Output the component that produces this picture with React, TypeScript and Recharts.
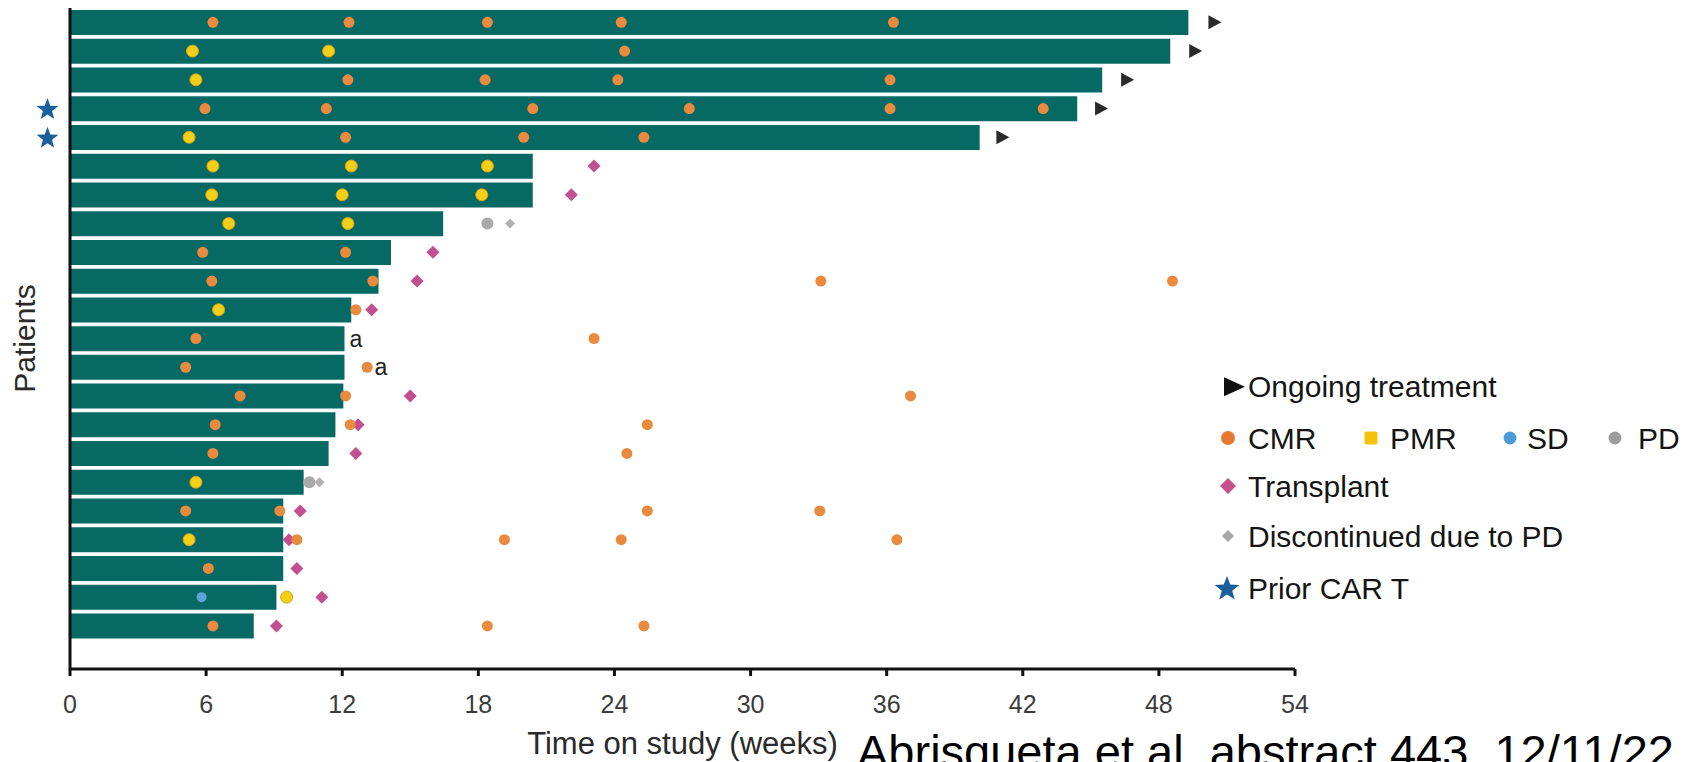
import { Bar, ComposedChart, Legend, Scatter, XAxis, YAxis } from "recharts";

const FONT = '"Liberation Sans", Arial, Helvetica, sans-serif';
const TEAL = "#066964";

// one row per patient, top to bottom
const patientRows = [1, 2, 3, 4, 5, 6, 7, 8, 9, 10, 11, 12, 13, 14, 15, 16, 17, 18, 19, 20, 21, 22];
const weeksOnStudy = [
  49.3, 48.5, 45.5, 44.4, 40.1, 20.4, 20.4, 16.45, 14.15, 13.6, 12.4,
  12.1, 12.1, 12.05, 11.7, 11.4, 10.3, 9.4, 9.4, 9.4, 9.1, 8.1,
];
const xTicks = [0, 6, 12, 18, 24, 30, 36, 42, 48, 54];
const priorCarT = [4, 5];

// [patient row, week]
const cmr: [number, number][] = [
  [1, 6.3], [1, 12.3], [1, 18.4], [1, 24.3], [1, 36.3],
  [2, 24.45],
  [3, 12.25], [3, 18.3], [3, 24.15], [3, 36.15],
  [4, 5.95], [4, 11.3], [4, 20.4], [4, 27.3], [4, 36.15], [4, 42.9],
  [5, 12.15], [5, 20.0], [5, 25.3],
  [9, 5.85], [9, 12.15],
  [10, 6.25], [10, 13.35], [10, 33.1], [10, 48.6],
  [11, 12.6],
  [12, 5.55], [12, 23.1],
  [13, 5.1], [13, 13.1],
  [14, 7.5], [14, 12.15], [14, 37.05],
  [15, 6.4], [15, 12.35], [15, 25.45],
  [16, 6.3], [16, 24.55],
  [18, 5.1], [18, 9.25], [18, 25.45], [18, 33.05],
  [19, 10.0], [19, 19.15], [19, 24.3], [19, 36.45],
  [20, 6.1],
  [22, 6.3], [22, 18.4], [22, 25.3],
];
const pmr: [number, number][] = [
  [2, 5.4], [2, 11.4], [3, 5.55], [5, 5.25],
  [6, 6.3], [6, 12.4], [6, 18.4],
  [7, 6.25], [7, 12.0], [7, 18.15],
  [8, 7.0], [8, 12.25], [11, 6.55], [17, 5.55], [19, 5.25], [21, 9.55],
];
const sd: [number, number][] = [[21, 5.8]];
const pd: [number, number][] = [[8, 18.4], [17, 10.55]];
const transplant: [number, number][] = [
  [6, 23.1], [7, 22.1], [9, 16.0], [10, 15.3], [11, 13.3], [14, 15.0], [15, 12.7],
  [16, 12.6], [18, 10.15], [19, 9.65], [20, 10.0], [21, 11.1], [22, 9.1],
];
const discontinued: [number, number][] = [[8, 19.4], [17, 11.0]];
const ongoing: [number, number][] = [[1, 50.45], [2, 49.6], [3, 46.6], [4, 45.45], [5, 41.1]];
const footnoteA: [number, number][] = [[12, 12.6], [13, 13.7]];

const rows = patientRows.map((row, i) => ({ row, weeks: weeksOnStudy[i] }));
const pts = (list: [number, number][]) => list.map(([row, w]) => ({ row, w }));

const starPath = (cx: number, cy: number, ro: number, ri: number) => {
  let d = "";
  for (let i = 0; i < 10; i++) {
    const r = i % 2 === 0 ? ro : ri;
    const a = -Math.PI / 2 + (i * Math.PI) / 5;
    d += `${i === 0 ? "M" : "L"}${cx + r * Math.cos(a)},${cy + r * Math.sin(a)}`;
  }
  return d + "Z";
};
const diamondPath = (cx: number, cy: number, h: number) =>
  `M${cx},${cy - h}L${cx + h},${cy}L${cx},${cy + h}L${cx - h},${cy}Z`;

const dot = (fill: string, r: number, stroke = "none") => (p: any) =>
  <circle cx={p.cx} cy={p.cy} r={r} fill={fill} stroke={stroke} strokeWidth={1} />;
const diamond = (fill: string, h: number) => (p: any) => <path d={diamondPath(p.cx, p.cy, h)} fill={fill} />;
const arrowHead = (p: any) => (
  <path d={`M${p.cx - 6},${p.cy - 7}L${p.cx + 7},${p.cy}L${p.cx - 6},${p.cy + 7}Z`} fill="#2a2a2a" />
);
const footnote = (p: any) => (
  <text x={p.cx} y={p.cy} fontSize={23} fill="#222" textAnchor="middle" dominantBaseline="central">a</text>
);

function CarTTick(props: any) {
  const { x, y, payload } = props;
  if (!priorCarT.includes(payload.value)) return <g />;
  return <path d={starPath(x - 14.5, y + 1, 11.5, 4.8)} fill="#1b5f9d" />;
}

function YTitle(props: any) {
  const vb = props.viewBox || { x: 10, y: 7, width: 60, height: 663 };
  const cx = vb.x + 14;
  const cy = vb.y + vb.height / 2;
  return (
    <text x={cx} y={cy} transform={`rotate(-90 ${cx} ${cy})`} textAnchor="middle" dominantBaseline="central" fontSize={30} fill="#2a2a2a">
      Patients
    </text>
  );
}

function XTitle(props: any) {
  const vb = props.viewBox || { x: 70, y: 670, width: 1225, height: 92 };
  return (
    <text x={vb.x + vb.width / 2} y={vb.y + 85} textAnchor="middle" fontSize={31} fill="#2a2a2a">
      Time on study (weeks)
    </text>
  );
}

function ChartLegend() {
  const t = { fontSize: 30, fill: "#151515", dominantBaseline: "central" as const };
  return (
    <svg width={497} height={250} style={{ display: "block", overflow: "visible", fontFamily: FONT }}>
      <path d="M19,17.2L40,26.7L19,36.2Z" fill="#111" />
      <text x={43} y={26.7} {...t}>Ongoing treatment</text>

      <circle cx={23} cy={78} r={7} fill="#e67a30" />
      <text x={43} y={78} {...t}>CMR</text>
      <rect x={159.5} y={71.5} width={13} height={13} rx={2} fill="#f4c20d" />
      <text x={185} y={78} {...t}>PMR</text>
      <circle cx={305} cy={78} r={6.5} fill="#4b9bd8" />
      <text x={322} y={78} {...t}>SD</text>
      <circle cx={410} cy={78} r={6.5} fill="#9d9d9d" />
      <text x={433} y={78} {...t}>PD</text>

      <path d={diamondPath(23, 126, 8)} fill="#c6508e" />
      <text x={43} y={126} {...t}>Transplant</text>

      <path d={diamondPath(23, 176, 6)} fill="#a8a8a8" />
      <text x={43} y={176} {...t}>Discontinued due to PD</text>

      <path d={starPath(22, 229, 13, 5.5)} fill="#1a5e9c" />
      <text x={43} y={228} {...t}>Prior CAR T</text>
    </svg>
  );
}

export default function App() {
  return (
    <div style={{ position: "absolute", left: 0, top: 0, width: 1702, height: 762, background: "#fff", fontFamily: FONT, overflow: "hidden" }}>
      <ComposedChart layout="vertical" width={1702} height={762} data={rows} margin={{ top: 8, right: 407, bottom: 0, left: 10 }}>
        <XAxis
          type="number"
          domain={[0, 54]}
          ticks={xTicks}
          interval={0}
          height={93}
          tickSize={7}
          tickMargin={19}
          tick={{ fontSize: 25, fill: "#3c3c3c" }}
          axisLine={{ stroke: "#111", strokeWidth: 3 }}
          tickLine={{ stroke: "#111", strokeWidth: 3 }}
          label={<XTitle />}
        />
        <YAxis
          type="number"
          dataKey="row"
          domain={[0.5, 23.5]}
          ticks={patientRows}
          interval={0}
          width={60}
          tickLine={false}
          axisLine={{ stroke: "#111", strokeWidth: 3 }}
          tick={<CarTTick />}
          label={<YTitle />}
        />
        <Bar dataKey="weeks" fill={TEAL} barSize={25} isAnimationActive={false} />
        <Scatter data={pts(sd)} dataKey="w" shape={dot("#5aa5d6", 5)} isAnimationActive={false} />
        <Scatter data={pts(pd)} dataKey="w" shape={dot("#a9a9a9", 6)} isAnimationActive={false} />
        <Scatter data={pts(discontinued)} dataKey="w" shape={diamond("#b0b0b0", 5)} isAnimationActive={false} />
        <Scatter data={pts(transplant)} dataKey="w" shape={diamond("#c24f8f", 6.5)} isAnimationActive={false} />
        <Scatter data={pts(pmr)} dataKey="w" shape={dot("#f3d016", 6, "#dba21c")} isAnimationActive={false} />
        <Scatter data={pts(cmr)} dataKey="w" shape={dot("#e98a3e", 5.5)} isAnimationActive={false} />
        <Scatter data={pts(ongoing)} dataKey="w" shape={arrowHead} isAnimationActive={false} />
        <Scatter data={pts(footnoteA)} dataKey="w" shape={footnote} isAnimationActive={false} />
        <Legend
          layout="horizontal"
          align="center"
          verticalAlign="middle"
          content={<ChartLegend />}
          wrapperStyle={{ left: 1205, top: 360, width: 497, height: 250 }}
        />
      </ComposedChart>
      <div style={{ position: "absolute", left: 857, top: 728, fontSize: 47, lineHeight: "47px", whiteSpace: "nowrap", color: "#000" }}>
        Abrisqueta et al. abstract 443, 12/11/22
      </div>
    </div>
  );
}
